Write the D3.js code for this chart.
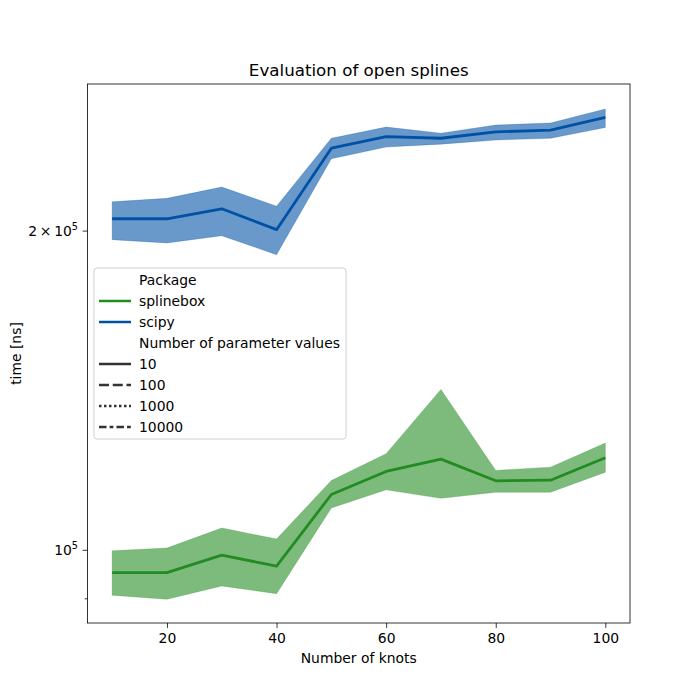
<!doctype html>
<html lang="en">
<head>
<meta charset="UTF-8">
<title>Evaluation of open splines</title>
<style>
  body { margin: 0; background: #fff; }
  svg text { font-family: "DejaVu Sans", sans-serif; fill: #000; }
</style>
</head>
<body>
<div id="chart"></div>
<script src="https://d3js.org/d3.v7.min.js"></script>
<script>
    // knots on the x axis
    const knots = [10, 20, 30, 40, 50, 60, 70, 80, 90, 100]

    // scipy (blue): mean line and band edges, in ns
    const scipyMean  = [205200, 205200, 209700, 200400, 239200, 245300, 244400, 247800, 248700, 255700]
    const scipyUpper = [212900, 214500, 219800, 210900, 244400, 250400, 247100, 251500, 252600, 260400]
    const scipyLower = [196100, 194700, 197800, 189800, 233800, 239800, 241300, 243500, 244400, 250200]

    // splinebox (green)
    const sbMean  = [95170, 95170, 98850, 96510, 112750, 118540, 121770, 116160, 116310, 122140]
    const sbUpper = [99780, 100370, 104840, 102360, 116230, 123200, 141640, 118800, 119660, 126080]
    const sbLower = [90600, 89820, 92450, 90910, 109510, 113900, 111830, 113310, 113310, 118360]

    const xTicks = [20, 40, 60, 80, 100]
    const packages = ['splinebox', 'scipy']
    const paramCounts = ['10', '100', '1000', '10000']

    const W = 700, H = 700
    const margin = { left: 87.5, right: 70, top: 84, bottom: 77 }
    const plotW = W - margin.left - margin.right
    const plotH = H - margin.top - margin.bottom

    const colors = { splinebox: '#228b22', scipy: '#0051a5' }
    const dashes = { '10': null, '100': '10,3.75', '1000': '2.5,2.5', '10000': '7.5,3.1,3.75,3.1' }

    const svg = d3.select('#chart').append('svg')
        .attr('width', W).attr('height', H)

    const g = svg.append('g')
        .attr('transform', 'translate(' + margin.left + ',' + margin.top + ')')

    const x = d3.scaleLinear().domain([5.5, 104.5]).range([0, plotW])
    const y = d3.scaleLog().domain([85300, 274960]).range([plotH, 0])

    const series = [
        { name: 'splinebox', mean: sbMean, upper: sbUpper, lower: sbLower },
        { name: 'scipy', mean: scipyMean, upper: scipyUpper, lower: scipyLower }
    ]

    const area = d3.area()
        .x((d, i) => x(knots[i]))
        .y0((d) => y(d[0]))
        .y1((d) => y(d[1]))
    const line = d3.line()
        .x((d, i) => x(knots[i]))
        .y((d) => y(d))

    series.forEach(function(s) {
        const band = s.lower.map((v, i) => [v, s.upper[i]])
        g.append('path')
            .attr('d', area(band))
            .attr('fill', colors[s.name])
            .attr('fill-opacity', 0.59)
            .attr('stroke', colors[s.name])
            .attr('stroke-opacity', 0.25)
            .attr('stroke-width', 1)
        g.append('path')
            .attr('d', line(s.mean))
            .attr('fill', 'none')
            .attr('stroke', colors[s.name])
            .attr('stroke-width', 2.8)
            .attr('stroke-linejoin', 'round')
    })

    // x axis
    const xAxis = g.append('g')
        .attr('transform', 'translate(0,' + plotH + ')')
        .call(d3.axisBottom(x).tickValues(xTicks).tickSize(4.9).tickPadding(5.5))
    xAxis.select('.domain').remove()
    xAxis.selectAll('line').attr('stroke', '#000').attr('stroke-width', 0.8)
    xAxis.selectAll('text').style('font-size', '13.9px').style('font-family', '"DejaVu Sans", sans-serif')

    // y axis (log, labels as superscripts)
    const yAxis = g.append('g')
        .call(d3.axisLeft(y).tickValues([90000, 100000, 200000]).tickSize(4.9).tickFormat(''))
    yAxis.select('.domain').remove()
    yAxis.selectAll('line').attr('stroke', '#000').attr('stroke-width', 0.8)
    yAxis.selectAll('.tick').filter((d) => d === 90000).select('line').attr('x2', -2.8)

    const yLabels = [{ v: 200000, pre: '2\u2009\u00d7\u200910' }, { v: 100000, pre: '10' }]
    yLabels.forEach(function(l) {
        const t = g.append('text')
            .attr('x', -9.5)
            .attr('y', y(l.v) + 5)
            .attr('text-anchor', 'end')
            .style('font-size', '13.9px')
        t.append('tspan').text(l.pre)
        t.append('tspan').attr('dy', -6).style('font-size', '9.7px').text('5')
    })

    // frame
    g.append('rect')
        .attr('width', plotW).attr('height', plotH)
        .attr('fill', 'none').attr('stroke', '#000').attr('stroke-width', 0.8)

    // titles
    svg.append('text')
        .attr('x', margin.left + plotW / 2).attr('y', 76)
        .attr('text-anchor', 'middle').style('font-size', '16.7px')
        .text('Evaluation of open splines')
    svg.append('text')
        .attr('x', margin.left + plotW / 2).attr('y', 663)
        .attr('text-anchor', 'middle').style('font-size', '13.9px')
        .text('Number of knots')
    svg.append('text')
        .attr('transform', 'translate(21,' + (margin.top + plotH / 2) + ') rotate(-90)')
        .attr('text-anchor', 'middle').style('font-size', '13.9px')
        .text('time [ns]')

    // legend
    const leg = svg.append('g').attr('transform', 'translate(94,268)')
    leg.append('rect')
        .attr('width', 252).attr('height', 171).attr('rx', 3)
        .attr('fill', '#fff').attr('fill-opacity', 0.8)
        .attr('stroke', '#d0d0d0').attr('stroke-width', 1)

    const rows = [{ label: 'Package' }]
        .concat(packages.map((p) => ({ label: p, color: colors[p], dash: null })))
        .concat([{ label: 'Number of parameter values' }])
        .concat(paramCounts.map((c) => ({ label: c, color: '#333333', dash: dashes[c] })))

    rows.forEach(function(r, i) {
        const cy = 12 + i * 21
        if (r.color) {
            leg.append('line')
                .attr('x1', 5).attr('x2', 37).attr('y1', cy).attr('y2', cy)
                .attr('stroke', r.color).attr('stroke-width', 2.5)
                .attr('stroke-dasharray', r.dash)
        }
        leg.append('text')
            .attr('x', 45).attr('y', cy + 5)
            .style('font-size', '13.9px')
            .text(r.label)
    })
</script>
</body>
</html>
